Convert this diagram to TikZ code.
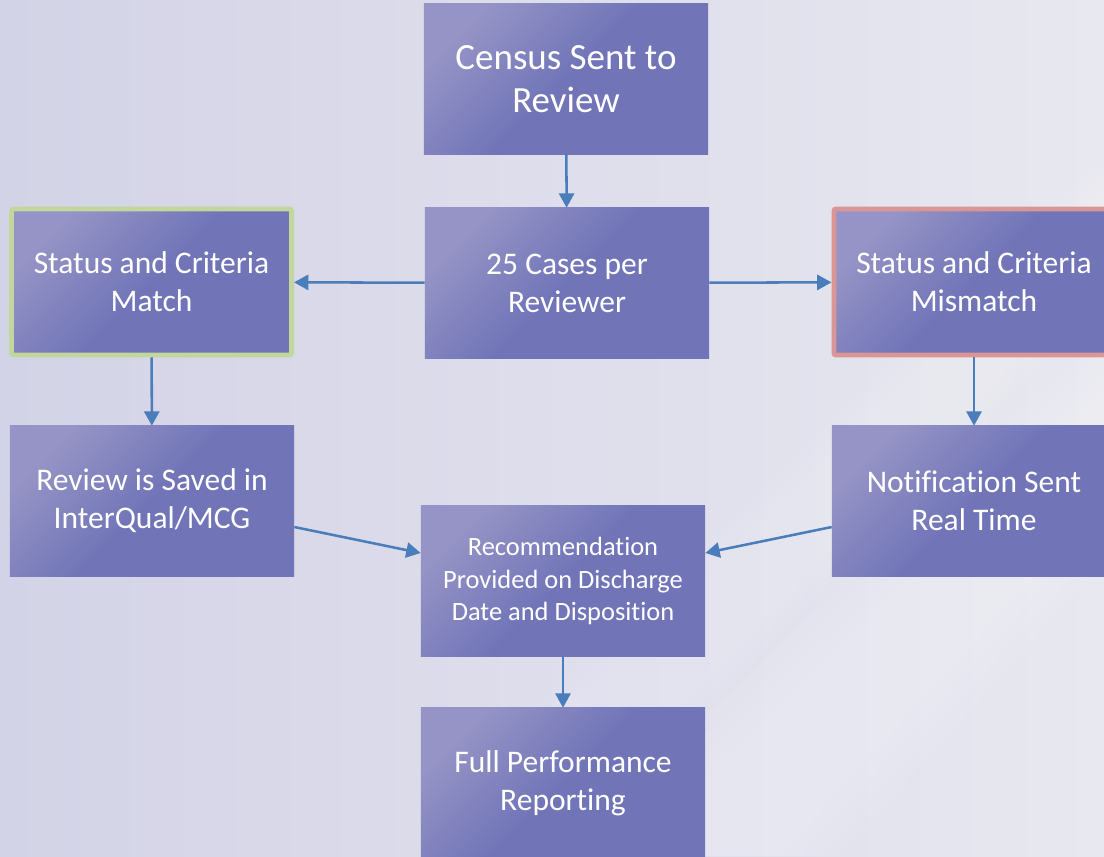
\documentclass[tikz,border=0pt]{standalone}
\usepackage{fontspec}
\setmainfont{Carlito}[Ligatures=NoCommon]
\usetikzlibrary{arrows.meta,positioning}

\definecolor{bgleft}{RGB}{211,211,231}
\definecolor{bgright}{RGB}{232,232,240}
\definecolor{boxlight}{RGB}{150,148,198}
\definecolor{boxdark}{RGB}{113,117,184}
\definecolor{flowblue}{RGB}{74,126,187}
\definecolor{okgreen}{RGB}{195,214,155}
\definecolor{badred}{RGB}{217,150,148}

\begin{document}
\begin{tikzpicture}[x=0.025cm, y=-0.025cm,
  box/.style = {rectangle, inner sep=0pt, text=white, align=center,
    minimum width=7.1cm, minimum height=3.75cm,
    top color=boxlight, bottom color=boxdark, middle color=boxdark,
    shading angle=45, font=\fontsize{22.4}{27}\selectfont},
  framed/.style = {box, minimum width=7.0cm, minimum height=3.65cm,
    line width=3.5pt, rounded corners=1.5pt},
  flow/.style = {draw=flowblue, line width=1.8pt,
    -{Triangle[length=0.36cm, width=0.38cm]}}]
\useasboundingbox (0,0) rectangle (1104,856);
\clip (0,0) rectangle (1104,856);

%background with soft light streaks
\shade [left color=bgleft, right color=bgright] (0,0) rectangle (1104,856);
\foreach \w in {0,20,40,60}
  \fill [white, opacity=0.07] (560+\w,856) -- (1104,330+\w) -- (1104,560-\w) -- (840-\w,856) -- cycle;
\foreach \w in {0,15,30}
  \fill [white, opacity=0.06] (520+\w,720) -- (1104,160+\w) -- (1104,300-\w) -- (640-\w,780) -- cycle;

%middle column
\node [box, font=\fontsize{26.3}{31}\selectfont] (census) at (566,79) {Census Sent to\\Review};
\node [box] (cases) at (567,283) {25 Cases per\\Reviewer};
\node [box, font=\fontsize{18.8}{22.8}\selectfont] (recom) at (563,581) {Recommendation\\Provided on Discharge\\Date and Disposition};
\node [box] (full) at (563,783) {Full Performance\\Reporting};

%left column
\node [framed, draw=okgreen] (match) at (151.5,282) {Status and Criteria\\Match};
\node [box] (saved) at (152,501) {Review is Saved in\\InterQual/MCG};

%right column
\node [framed, draw=badred] (mismatch) at (974,282) {Status and Criteria\\Mismatch};
\node [box] (notify) at (974,501) {Notification Sent\\Real Time};

%connectors
\draw [flow] (census) -- (cases);
\draw [flow] (cases) -- (match);
\draw [flow] (cases) -- (mismatch);
\draw [flow] (match) -- (saved);
\draw [flow] (mismatch) -- (notify);
\draw [flow] ([yshift=-0.65cm]saved.east) -- ([yshift=0.7cm]recom.west);
\draw [flow] ([yshift=-0.65cm]notify.west) -- ([yshift=0.7cm]recom.east);
\draw [flow] (recom) -- (full);
\end{tikzpicture}
\end{document}
